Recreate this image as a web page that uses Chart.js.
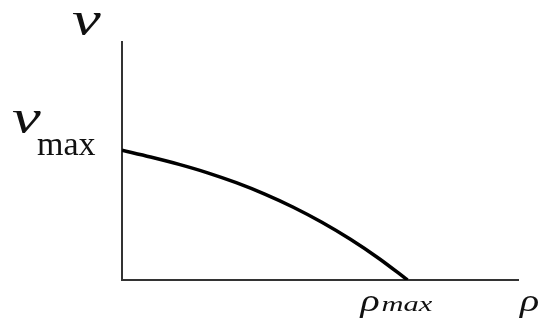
<!DOCTYPE html>
<html>
<head>
<meta charset="utf-8">
<style>
  html, body { margin: 0; padding: 0; background: #ffffff; overflow: hidden; }
  #c { display: block; }
</style>
<script src="https://cdn.jsdelivr.net/npm/chart.js@4/dist/chart.umd.min.js"></script>
</head>
<body>
<canvas id="c" width="540" height="322"></canvas>
<script>
// Density as a fraction of rho_max, speed as a fraction of v_max
const density = [0, 0.1, 0.2, 0.3, 0.4, 0.5, 0.6, 0.7, 0.8, 0.9, 1.0];
const speed   = [1, 0.948, 0.891, 0.826, 0.750, 0.662, 0.561, 0.445, 0.314, 0.166, 0];

// Axis extents and the marked values on each axis
const xMax = 1.387;
const yMax = 1.834;
const xMark = 1;   // rho_max
const yMark = 1;   // v_max

const points = density.map((d, i) => ({ x: d, y: speed[i] }));

const SERIF = '"Liberation Serif", "DejaVu Serif", serif';

// Draw text with an optional horizontal stretch
function putText(ctx, text, x, y, font, sx) {
  ctx.save();
  ctx.font = font;
  ctx.translate(x, y);
  ctx.scale(sx || 1, 1);
  ctx.fillText(text, 0, 0);
  ctx.restore();
}

// Axis names and the max markers, typeset with subscripts
const labelPlugin = {
  id: 'axisLabels',
  afterDraw(chart) {
    const { ctx, scales } = chart;
    const xs = scales.x, ys = scales.y;
    const x0 = xs.getPixelForValue(0);
    const yTop = ys.getPixelForValue(yMax);
    const yM = ys.getPixelForValue(yMark);
    const xM = xs.getPixelForValue(xMark);
    const xEnd = xs.getPixelForValue(xMax);
    const y0 = ys.getPixelForValue(0);
    ctx.save();
    ctx.fillStyle = '#111';
    ctx.textBaseline = 'alphabetic';
    ctx.textAlign = 'left';

    // v above the vertical axis
    putText(ctx, 'v', x0 - 50, yTop - 7, 'italic 48px ' + SERIF, 1.35);

    // v_max beside the marked speed
    putText(ctx, 'v', x0 - 110, yM - 17, 'italic 48px ' + SERIF, 1.35);
    putText(ctx, 'max', x0 - 85, yM + 5, '34px ' + SERIF, 1);

    // rho_max under the marked density
    putText(ctx, '\u03C1', xM - 47, y0 + 31, 'italic 32px ' + SERIF, 1.25);
    putText(ctx, 'max', xM - 26, y0 + 31, 'italic 21px ' + SERIF, 1.45);

    // rho at the end of the horizontal axis
    putText(ctx, '\u03C1', xEnd + 2, y0 + 31, 'italic 32px ' + SERIF, 1.25);
    ctx.restore();
  }
};

new Chart(document.getElementById('c'), {
  type: 'scatter',
  data: {
    datasets: [{
      data: points,
      showLine: true,
      borderColor: '#000000',
      borderWidth: 3.5,
      pointRadius: 0,
      cubicInterpolationMode: 'monotone',
      fill: false
    }]
  },
  options: {
    responsive: false,
    animation: false,
    layout: { padding: { left: 122, top: 42, right: 22, bottom: 42 } },
    plugins: { legend: { display: false }, tooltip: { enabled: false } },
    scales: {
      x: {
        type: 'linear', min: 0, max: xMax,
        ticks: { display: false },
        grid: { display: false, drawTicks: false },
        border: { display: true, color: '#333333', width: 2 }
      },
      y: {
        type: 'linear', min: 0, max: yMax,
        ticks: { display: false },
        grid: { display: false, drawTicks: false },
        border: { display: true, color: '#333333', width: 2 }
      }
    }
  },
  plugins: [labelPlugin]
});
</script>
</body>
</html>
